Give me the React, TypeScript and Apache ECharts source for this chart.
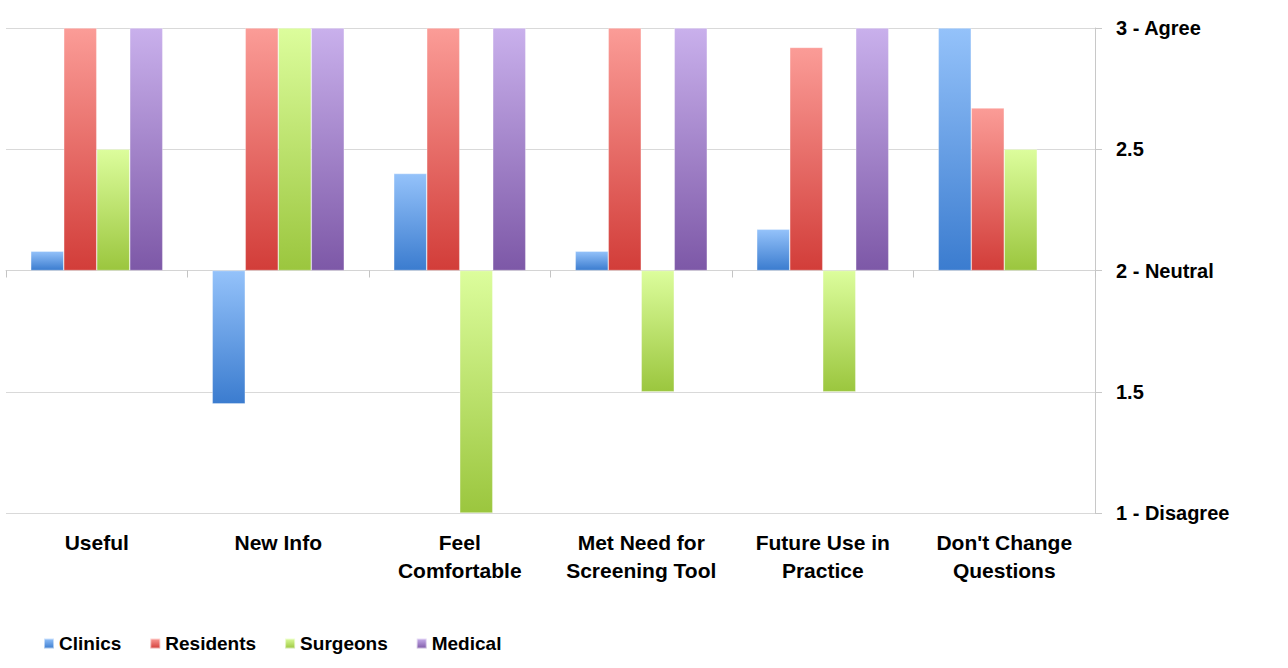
import React, { useEffect, useRef } from "react";
import * as echarts from "echarts";

const categories = [
  "Useful",
  "New Info",
  "Feel\nComfortable",
  "Met Need for\nScreening Tool",
  "Future Use in\nPractice",
  "Don't Change\nQuestions",
];

const clinics = [2.08, 1.45, 2.4, 2.08, 2.17, 3];
const residents = [3, 3, 3, 3, 2.92, 2.67];
const surgeons = [2.5, 3, 1, 1.5, 1.5, 2.5];
const medical: (number | null)[] = [3, 3, 3, 3, 3, null];

const yTickValues = [1, 1.5, 2, 2.5, 3];
const yTickLabels = ["1 - Disagree", "1.5", "2 - Neutral", "2.5", "3 - Agree"];

const baseline = 2;

const seriesDefs = [
  { name: "Clinics", data: clinics, light: "#94c2fa", dark: "#3b7ccf" },
  { name: "Residents", data: residents, light: "#fb9c97", dark: "#d23d39" },
  { name: "Surgeons", data: surgeons, light: "#dcfd9c", dark: "#9bc63e" },
  { name: "Medical", data: medical, light: "#c9b0ec", dark: "#7d58a7" },
];

const FONT = "'Liberation Sans', Arial, Helvetica, sans-serif";

export default function App() {
  const ref = useRef<HTMLDivElement>(null);

  useEffect(() => {
    if (!ref.current) return;
    const chart = echarts.init(ref.current, undefined, { renderer: "svg" });

    const labelFor = (v: number) => {
      const real = Math.round((v + baseline) * 100) / 100;
      const idx = yTickValues.indexOf(real);
      return idx >= 0 ? yTickLabels[idx] : String(real);
    };

    chart.setOption({
      animation: false,
      backgroundColor: "#ffffff",
      textStyle: { fontFamily: FONT },
      grid: { left: 6, right: 193, top: 28, bottom: 155, containLabel: false },
      legend: {
        left: 38,
        top: 629,
        icon: "rect",
        itemWidth: 10,
        itemHeight: 10,
        itemGap: 28,
        textStyle: { fontSize: 19, fontWeight: "bold", color: "#000", fontFamily: FONT },
        data: seriesDefs.map((s) => s.name),
      },
      xAxis: [
        {
          type: "category",
          data: categories,
          position: "bottom",
          axisLine: { show: false, onZero: false },
          axisTick: { show: false },
          splitLine: { show: false },
          axisLabel: {
            interval: 0,
            fontSize: 21,
            fontWeight: "bold",
            color: "#000",
            lineHeight: 28,
            margin: 15,
            fontFamily: FONT,
          },
        },
        {
          type: "category",
          data: categories,
          position: "top",
          axisLine: { show: true, onZero: true, lineStyle: { color: "#d4d4d4", width: 1 } },
          axisTick: { show: true, inside: true, length: 7, lineStyle: { color: "#c4c4c4" } },
          axisLabel: { show: false },
          splitLine: { show: false },
        },
      ],
      yAxis: {
        type: "value",
        position: "right",
        min: -1,
        max: 1,
        interval: 0.5,
        axisLine: { show: true, onZero: false, lineStyle: { color: "#c8c8c8" } },
        axisTick: { show: true, length: 7, lineStyle: { color: "#c8c8c8" } },
        splitLine: { show: true, lineStyle: { color: "#d9d9d9", width: 1 } },
        axisLabel: {
          margin: 21,
          fontSize: 20,
          fontWeight: "bold",
          color: "#000",
          fontFamily: FONT,
          formatter: (v: number) => labelFor(v),
        },
      },
      series: seriesDefs.map((s) => ({
        name: s.name,
        type: "bar",
        xAxisIndex: 0,
        barWidth: 33,
        barGap: "0%",
        itemStyle: {
          color: new echarts.graphic.LinearGradient(0, 0, 0, 1, [
            { offset: 0, color: s.light },
            { offset: 1, color: s.dark },
          ]),
          borderColor: "rgba(255,255,255,0.55)",
          borderWidth: 0.6,
        },
        emphasis: { disabled: true },
        data: s.data.map((v) => (v === null ? null : Math.round((v - baseline) * 1000) / 1000)),
      })),
    });

    return () => chart.dispose();
  }, []);

  return (
    <div
      ref={ref}
      style={{ position: "fixed", left: 0, top: 0, width: 1288, height: 668, background: "#fff" }}
    />
  );
}
